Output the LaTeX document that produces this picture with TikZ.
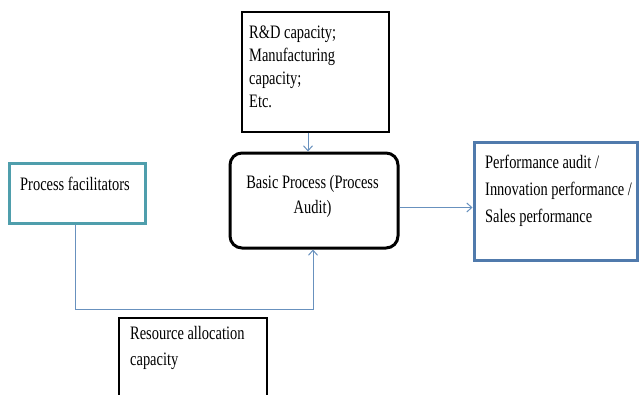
\documentclass[tikz,border=0pt]{standalone}
\usepackage{fontspec}
\setmainfont[FakeStretch=0.76]{Liberation Serif}
\usetikzlibrary{arrows.meta}

\definecolor{tealframe}{RGB}{79,158,172}
\definecolor{blueframe}{RGB}{80,122,172}
\definecolor{linkblue}{RGB}{104,145,190}

\tikzset{
  plainbox/.style={draw=black, line width=1.2pt, fill=white, inner sep=0pt},
  corebox/.style={draw=black, line width=3pt, rounded corners=12pt, fill=white, inner sep=0pt},
  facbox/.style={draw=tealframe, line width=3pt, fill=white, inner sep=0pt},
  perfbox/.style={draw=blueframe, line width=3pt, fill=white, inner sep=0pt},
  boxtext/.style={inner sep=0pt, font=\fontsize{19}{23}\selectfont},
  conn/.style={draw=linkblue, line width=1pt, -{Straight Barb[length=5pt,width=9pt]}}
}

\begin{document}
\begin{tikzpicture}[x=1pt, y=-1pt]
  \useasboundingbox (0,0) rectangle (640,394);
  \clip (0,0) rectangle (640,394);
  \fill[white] (0,0) rectangle (640,394);

  % frames
  \node[plainbox, minimum width=147pt, minimum height=120pt] (rd) at (315.5,72) {};
  \node[corebox, minimum width=168pt, minimum height=95pt] (core) at (314,200.5) {};
  \node[facbox, minimum width=136pt, minimum height=60pt] (fac) at (77,193) {};
  \node[perfbox, minimum width=163pt, minimum height=118pt] (perf) at (555.5,201) {};
  \node[plainbox, minimum width=148pt, minimum height=102pt] (res) at (193,369) {};

  % texts
  \node[boxtext, anchor=north west, align=left] (rdtext) at (249,25.7)
    {R\&D capacity;\\Manufacturing\\capacity;\\Etc.};
  \node[boxtext, anchor=north, align=center, font=\fontsize{19}{25}\selectfont] (coretext) at (312.5,174.8)
    {Basic Process (Process\\Audit)};
  \node[boxtext, anchor=north west, align=left] (factext) at (20,176.5)
    {Process facilitators};
  \node[boxtext, anchor=north west, align=left, font=\fontsize{19}{27}\selectfont] (perftext) at (485,155)
    {Performance audit /\\Innovation performance /\\Sales performance};
  \node[boxtext, anchor=north west, align=left, font=\fontsize{19}{26}\selectfont] (restext) at (130,326)
    {Resource allocation\\capacity};

  % connectors
  \draw[conn] ([xshift=-7.5pt]rd.south) -- ([xshift=-6pt]core.north);
  \draw[conn] ([xshift=-2pt]fac.south) -- ++(0,85) -| ([xshift=-1pt]core.south);
  \draw[conn] ([yshift=-7pt]core.east) -- ([yshift=-7pt]core.east -| perf.west);
\end{tikzpicture}
\end{document}
